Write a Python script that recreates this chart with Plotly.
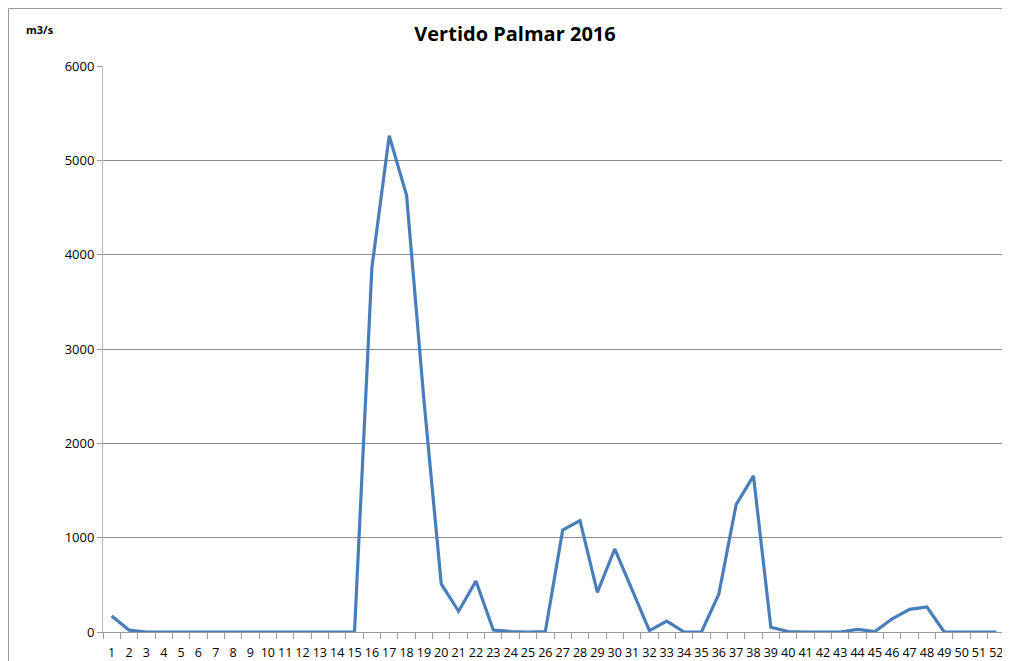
import plotly.graph_objects as go

weeks = [str(i) for i in range(1, 53)]
vertido = [170, 20, 0, 0, 0, 0, 0, 0, 0, 0, 0, 0, 0, 0, 0,
           3860, 5260, 4630, 2460, 510, 220, 540, 20, 5, 0, 5,
           1080, 1180, 420, 880, 445, 15, 115, 0, 0, 400,
           1350, 1655, 50, 5, 0, 0, 0, 28, 5, 140, 240, 265,
           0, 0, 0, 0]
y_ticks = [0, 1000, 2000, 3000, 4000, 5000, 6000]

fig = go.Figure()
fig.add_trace(go.Scatter(x=weeks, y=vertido, mode="lines",
                         line=dict(color="#4A7EBB", width=3.2), hoverinfo="x+y"))

# page body has an 8px margin; work in page coordinates and shift
OFF = 8
W, H = 1010 - OFF, 661 - OFF
L = 103 - OFF
R = W - (1005 - OFF)
T = 66 - OFF
B = H - (632 - OFF)
pw, ph = W - L - R, H - T - B

def px(x):
    return (x - OFF - L) / pw

def py(y):
    return (H - B - (y - OFF)) / ph

fig.update_layout(
    width=W, height=H,
    margin=dict(l=L, r=R, t=T, b=B, autoexpand=False),
    paper_bgcolor="white", plot_bgcolor="white",
    showlegend=False,
    font=dict(family="Open Sans, Liberation Sans, sans-serif", size=12, color="black"),
    title=dict(text="<b>Vertido Palmar 2016</b>", x=(515 - OFF) / W, xanchor="center",
               y=1 - (34 - OFF) / H, yanchor="middle",
               font=dict(size=20, color="black")),
    xaxis=dict(type="category", range=[-0.5, 51.5], showgrid=False,
               showline=True, linecolor="#9a9a9a", linewidth=1,
               ticks="outside", ticklen=6, tickcolor="#9a9a9a", tickson="boundaries",
               ticklabelstandoff=9, automargin=False,
               tickfont=dict(size=12.5), tickangle=0, fixedrange=True),
    yaxis=dict(range=[0, 6000], tickvals=y_ticks, showgrid=True,
               gridcolor="#8c8c8c", gridwidth=1,
               showline=True, linecolor="#b4b4b4", linewidth=1,
               ticks="outside", ticklen=5, tickcolor="#9a9a9a", automargin=False,
               tickfont=dict(size=13), zeroline=False, fixedrange=True),
    shapes=[dict(type="rect", xref="paper", yref="paper",
                 x0=px(8.5), x1=px(1008), y0=py(670), y1=py(8.5),
                 line=dict(color="#9a9a9a", width=1), layer="below")],
    annotations=[dict(text="<b>m3/s</b>", xref="paper", yref="paper",
                      x=px(40), y=py(30), xanchor="center", yanchor="middle",
                      showarrow=False, font=dict(size=11, color="black"))],
)

fig.write_html("out.html")
